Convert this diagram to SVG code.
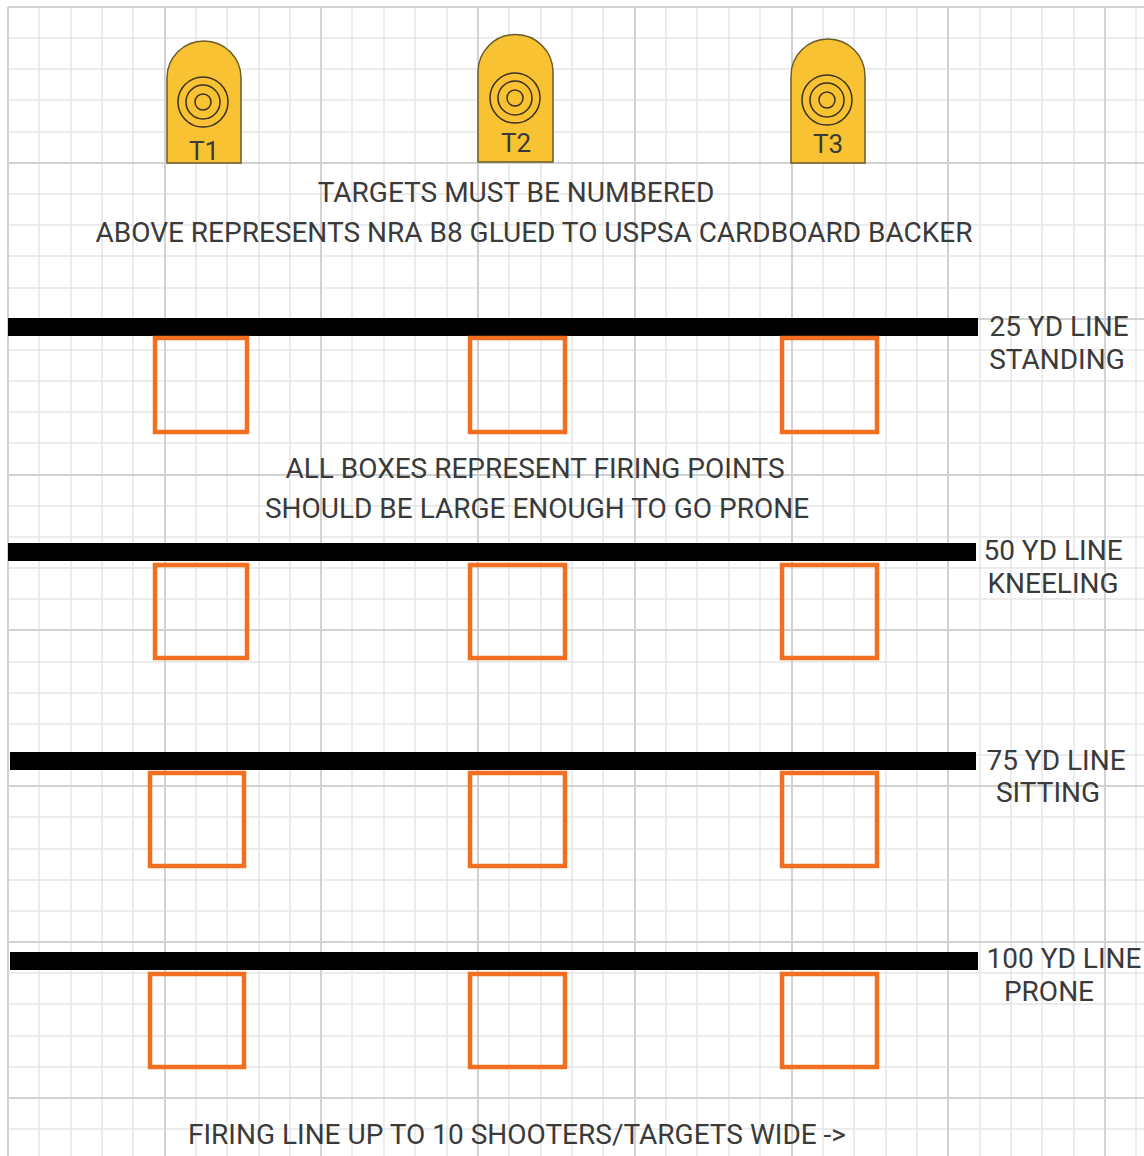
<svg xmlns="http://www.w3.org/2000/svg" width="1144" height="1156" viewBox="0 0 1144 1156">
<style>
.minor{stroke:#e6e6e6;stroke-width:1.5;fill:none}
.major{stroke:#d2d2d2;stroke-width:2;fill:none}
.tgt{fill:#F8C232;stroke:#6b5a2a;stroke-width:1.5}
.ring{fill:none;stroke:#3a3020;stroke-width:1.5}
.lbl{font-family:Roboto,"Liberation Sans",sans-serif;fill:#3a3a3a;text-anchor:middle}
.t{font-size:28px}
.tn{font-size:26px}
.bar{fill:#000}
.box{fill:none;stroke:#F26F21;stroke-width:4.5}
</style>
<rect width="1144" height="1156" fill="#fff"/>
<g id="grid">
<path class="minor" d="M39 7V1156M71 7V1156M102 7V1156M133 7V1156M196 7V1156M227 7V1156M259 7V1156M290 7V1156M352 7V1156M384 7V1156M415 7V1156M447 7V1156M509 7V1156M541 7V1156M572 7V1156M603 7V1156M666 7V1156M697 7V1156M729 7V1156M760 7V1156M823 7V1156M854 7V1156M886 7V1156M917 7V1156M980 7V1156M1011 7V1156M1042 7V1156M1074 7V1156M1136 7V1156
M8 38H1144M8 69H1144M8 100H1144M8 132H1144M8 194H1144M8 225H1144M8 256H1144M8 288H1144M8 350H1144M8 381H1144M8 412H1144M8 443H1144M8 506H1144M8 537H1144M8 568H1144M8 599H1144M8 662H1144M8 693H1144M8 724H1144M8 755H1144M8 817H1144M8 849H1144M8 880H1144M8 911H1144M8 973H1144M8 1004H1144M8 1036H1144M8 1067H1144M8 1129H1144"/>
<path class="major" d="M8 7V1156M165 7V1156M321 7V1156M478 7V1156M635 7V1156M792 7V1156M948 7V1156M1105 7V1156
M8 7H1144M8 163H1144M8 319H1144M8 475H1144M8 630H1144M8 786H1144M8 942H1144M8 1098H1144"/>
</g>
<g id="target-T1">
<path class="tgt" d="M167 163V78A37 37 0 0 1 241 78V163Z"/>
<circle class="ring" cx="203" cy="102" r="25"/>
<circle class="ring" cx="203" cy="102" r="17"/>
<circle class="ring" cx="203" cy="102" r="8"/>
<text class="lbl tn" x="204" y="160">T1</text>
</g>
<g id="target-T2">
<path class="tgt" d="M478 162V72A37.5 37.5 0 0 1 553 72V162Z"/>
<circle class="ring" cx="515" cy="98" r="25"/>
<circle class="ring" cx="515" cy="98" r="17"/>
<circle class="ring" cx="515" cy="98" r="8"/>
<text class="lbl tn" x="516" y="152">T2</text>
</g>
<g id="target-T3">
<path class="tgt" d="M791 163V76A37 37 0 0 1 865 76V163Z"/>
<circle class="ring" cx="827" cy="100" r="25"/>
<circle class="ring" cx="827" cy="100" r="17"/>
<circle class="ring" cx="827" cy="100" r="8"/>
<text class="lbl tn" x="828" y="153">T3</text>
</g>
<g id="note-targets">
<text class="lbl t" x="516" y="202">TARGETS MUST BE NUMBERED</text>
<text class="lbl t" x="534" y="242">ABOVE REPRESENTS NRA B8 GLUED TO USPSA CARDBOARD BACKER</text>
</g>
<g id="line-25">
<rect class="bar" x="8" y="318" width="970" height="18"/>
<text class="lbl t" x="1059" y="336">25 YD LINE</text>
<text class="lbl t" x="1057" y="369">STANDING</text>
</g>
<g id="boxes-25">
<rect class="box" x="155" y="338" width="92" height="94"/>
<rect class="box" x="470" y="338" width="95" height="94"/>
<rect class="box" x="782" y="338" width="95" height="94"/>
</g>
<g id="note-boxes">
<text class="lbl t" x="535" y="478">ALL BOXES REPRESENT FIRING POINTS</text>
<text class="lbl t" x="537" y="518">SHOULD BE LARGE ENOUGH TO GO PRONE</text>
</g>
<g id="line-50">
<rect class="bar" x="8" y="543" width="968" height="18"/>
<text class="lbl t" x="1053" y="560">50 YD LINE</text>
<text class="lbl t" x="1053" y="593">KNEELING</text>
</g>
<g id="boxes-50">
<rect class="box" x="155" y="565" width="92" height="93"/>
<rect class="box" x="470" y="565" width="95" height="93"/>
<rect class="box" x="782" y="565" width="95" height="93"/>
</g>
<g id="line-75">
<rect class="bar" x="10" y="752" width="966" height="18"/>
<text class="lbl t" x="1056" y="770">75 YD LINE</text>
<text class="lbl t" x="1048" y="802">SITTING</text>
</g>
<g id="boxes-75">
<rect class="box" x="150" y="773" width="94" height="93"/>
<rect class="box" x="470" y="773" width="95" height="93"/>
<rect class="box" x="782" y="773" width="95" height="93"/>
</g>
<g id="line-100">
<rect class="bar" x="10" y="952" width="968" height="18"/>
<text class="lbl t" x="1064" y="968">100 YD LINE</text>
<text class="lbl t" x="1049" y="1001">PRONE</text>
</g>
<g id="boxes-100">
<rect class="box" x="150" y="974" width="94" height="93"/>
<rect class="box" x="470" y="974" width="95" height="93"/>
<rect class="box" x="782" y="974" width="95" height="93"/>
</g>
<g id="note-width">
<text class="lbl t" x="517" y="1144">FIRING LINE UP TO 10 SHOOTERS/TARGETS WIDE -&gt;</text>
</g>
<g id="connectors"/>
</svg>
